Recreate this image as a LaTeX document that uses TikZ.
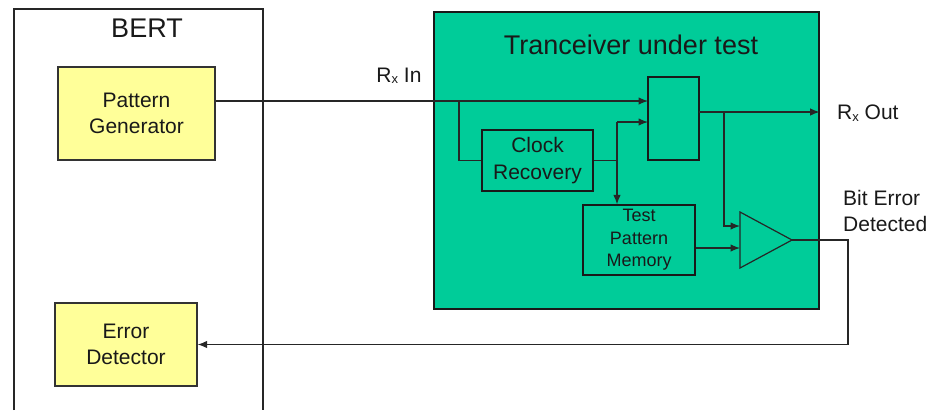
\documentclass[tikz,border=0pt]{standalone}
\usepackage{fontspec}
\setmainfont{Liberation Sans}
\usetikzlibrary{arrows.meta}
\definecolor{tgreen}{RGB}{0,204,153}
\definecolor{pyellow}{RGB}{255,255,153}
\definecolor{txt}{RGB}{25,25,25}
\newcommand{\sx}{\raisebox{-1.5pt}{\fontsize{13}{13}\selectfont x}}
\begin{document}
\begin{tikzpicture}[x=1pt,y=-1pt,
  every node/.style={text=txt},
  line/.style={line width=1.2pt,draw=black!85},
  arr/.style={line, -{Latex[length=9.5pt,width=7.5pt]}},
  ybox/.style={draw=black!80,line width=1.2pt,fill=pyellow,inner sep=0pt,align=center,font=\fontsize{21}{26.7}\selectfont},
  gbox/.style={draw=black!90,line width=1.2pt,fill=tgreen,inner sep=0pt,align=center,font=\fontsize{21}{26.7}\selectfont},
  lbl/.style={inner sep=0pt,font=\fontsize{21}{25.7}\selectfont}]
\useasboundingbox (0,0) rectangle (933,410);
% BERT enclosure
\draw[line width=1.2pt,draw=black!85] (14,410) -- (14,9) -- (263,9) -- (263,410);
\node[inner sep=0pt,font=\fontsize{27}{30}\selectfont] (bert) at (147,28) {BERT};
\node[ybox,minimum width=157pt,minimum height=93pt] (pg) at (136.5,113.5) {Pattern\\Generator};
\node[ybox,minimum width=142pt,minimum height=83pt] (ed) at (126,344.5) {Error\\Detector};
% Transceiver
\node[gbox,minimum width=385pt,minimum height=297pt] (tr) at (626.5,160.5) {};
\node[inner sep=0pt,font=\fontsize{27}{30}\selectfont] (title) at (631,45) {Tranceiver under test};
\node[gbox,minimum width=51pt,minimum height=83pt] (mux) at (673.5,118.5) {};
\node[gbox,minimum width=111pt,minimum height=61pt] (cr) at (537.5,160.5) {Clock\\Recovery};
\node[gbox,minimum width=112pt,minimum height=70pt,font=\fontsize{18}{22.5}\selectfont] (tpm) at (639,240) {Test\\Pattern\\Memory};
\coordinate (ctl) at (740,212);
\coordinate (cbl) at (740,268);
\coordinate (cap) at (792,240);
\draw[line,fill=tgreen] (ctl) -- (cap) -- (cbl) -- cycle;
% labels
\node[lbl] (rxin) at (399,76) {R\sx\ In};
\node[lbl,anchor=west] (rxout) at (837,113) {R\sx\ Out};
\node[lbl,anchor=west,align=left] (bed) at (843,211) {Bit Error\\Detected};
% coordinates
\coordinate (muxin1) at (648,101);
\coordinate (br1) at (459,101);
\coordinate (muxin2) at (648,122);
\coordinate (cj) at (617,160.5);
\coordinate (muxout) at (699,112);
\coordinate (br2) at (724,112);
\coordinate (cmpin1) at (740,226);
\coordinate (cmpin2) at (740,248);
\coordinate (turn) at (848,240);
% connectors
\draw[arr] (pg.east |- muxin1) -- (muxin1);
\draw[line] (br1) |- (cr.west);
\draw[line] (cr.east) -- (cj);
\draw[arr] (cj |- muxin2) -- (muxin2);
\draw[arr] (cj |- muxin2) -- (cj |- tpm.north);
\draw[arr] (muxout) -- (tr.east |- muxout);
\draw[arr] (br2) |- (cmpin1);
\draw[arr] (tpm.east |- cmpin2) -- (cmpin2);
\draw[arr] (cap) -| (turn |- ed.east) -- (ed.east);
\end{tikzpicture}
\end{document}
